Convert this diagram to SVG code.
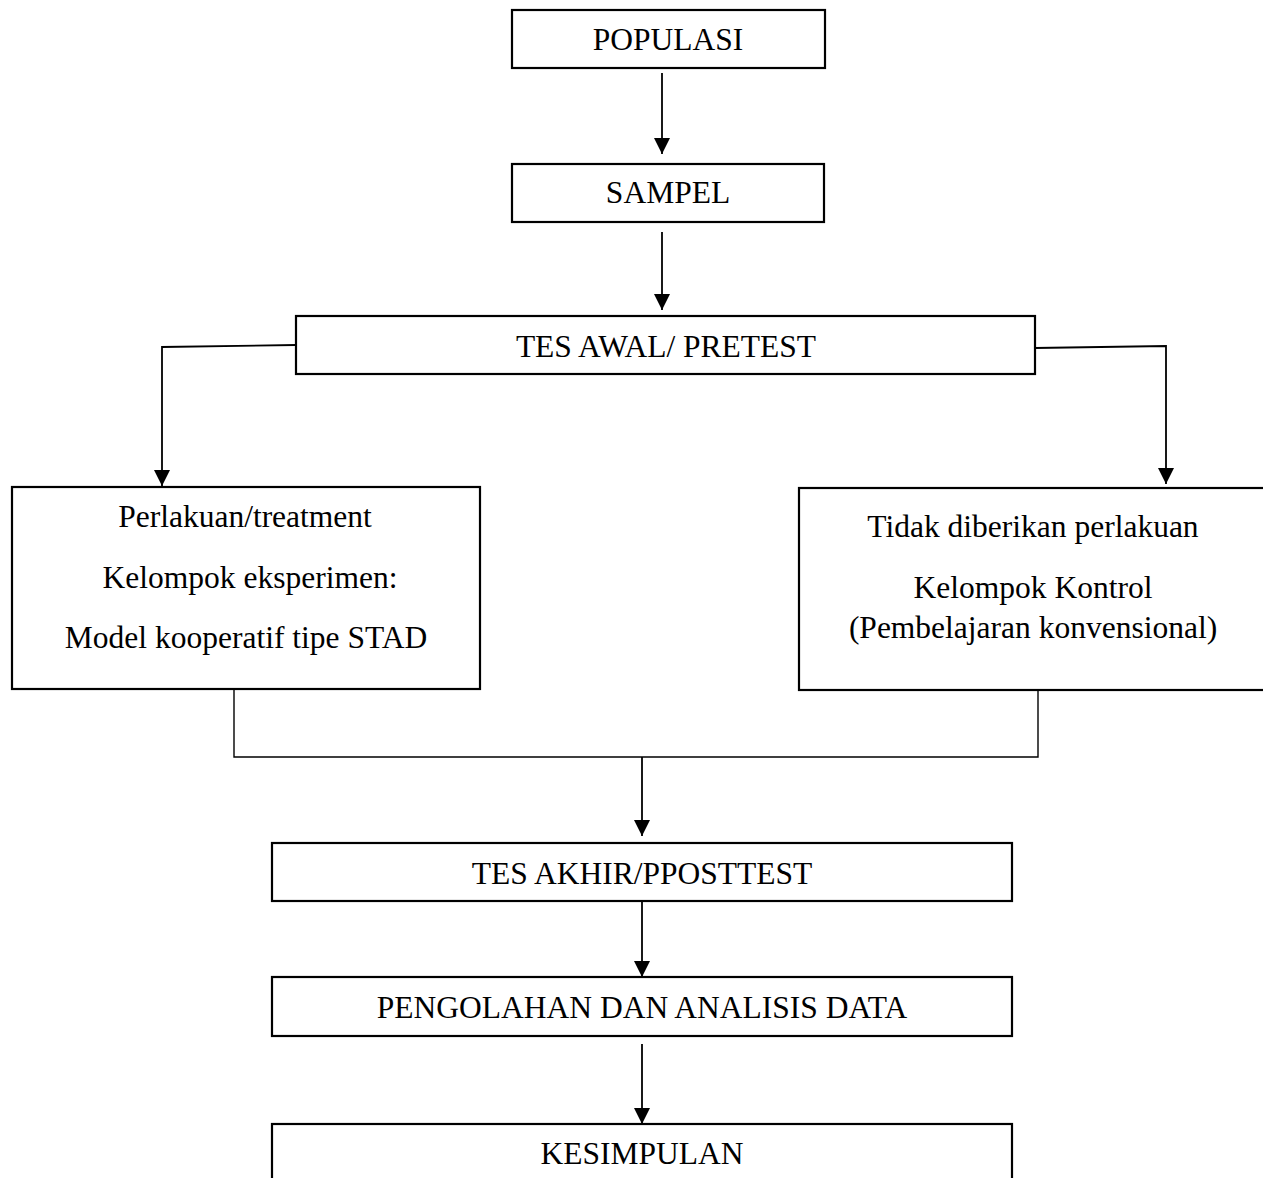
<svg xmlns="http://www.w3.org/2000/svg" width="1263" height="1178" viewBox="0 0 1263 1178">
<style>
  .box { fill: #ffffff; stroke: #000000; stroke-width: 2.2; }
  .lbl { font-family: "Liberation Serif", "Times New Roman", serif; font-size: 31.5px; fill: #000000; text-anchor: middle; }
  .con { fill: none; stroke: #000000; stroke-width: 1.8; }
  .thin { fill: none; stroke: #000000; stroke-width: 1.4; }
</style>
<defs>
  <marker id="arrow" markerUnits="userSpaceOnUse" markerWidth="16" markerHeight="16" refX="16" refY="8" orient="auto" viewBox="0 0 16 16">
    <path d="M0,0 L16,8 L0,16 z" fill="#000000"/>
  </marker>
</defs>
<rect width="1263" height="1178" fill="#ffffff"/>

<g id="connectors">
  <line class="con" x1="662" y1="73" x2="662" y2="154" marker-end="url(#arrow)"/>
  <line class="con" x1="662" y1="232" x2="662" y2="310" marker-end="url(#arrow)"/>
  <polyline class="con" points="296,345 162,347 162,486" marker-end="url(#arrow)"/>
  <polyline class="con" points="1035,348 1166,346 1166,484" marker-end="url(#arrow)"/>
  <polyline class="thin" points="234,690 234,757 1038,757 1038,691"/>
  <line class="con" x1="642" y1="757" x2="642" y2="836" marker-end="url(#arrow)"/>
  <line class="con" x1="642" y1="898" x2="642" y2="977" marker-end="url(#arrow)"/>
  <line class="con" x1="642" y1="1044" x2="642" y2="1124" marker-end="url(#arrow)"/>
</g>

<g id="populasi">
  <rect class="box" x="512" y="10" width="313" height="58"/>
  <text class="lbl" x="668" y="50">POPULASI</text>
</g>
<g id="sampel">
  <rect class="box" x="512" y="164" width="312" height="58"/>
  <text class="lbl" x="668" y="203">SAMPEL</text>
</g>
<g id="pretest">
  <rect class="box" x="296" y="316" width="739" height="58"/>
  <text class="lbl" x="666" y="357">TES AWAL/ PRETEST</text>
</g>
<g id="eksperimen">
  <rect class="box" x="12" y="487" width="468" height="202"/>
  <text class="lbl" x="245" y="527">Perlakuan/treatment</text>
  <text class="lbl" x="250" y="588">Kelompok eksperimen:</text>
  <text class="lbl" x="246" y="648">Model kooperatif tipe STAD</text>
</g>
<g id="kontrol">
  <rect class="box" x="799" y="488" width="480" height="202"/>
  <text class="lbl" x="1033" y="537">Tidak diberikan perlakuan</text>
  <text class="lbl" x="1033" y="598">Kelompok Kontrol</text>
  <text class="lbl" x="1033" y="638">(Pembelajaran konvensional)</text>
</g>
<g id="posttest">
  <rect class="box" x="272" y="843" width="740" height="58"/>
  <text class="lbl" x="642" y="884">TES AKHIR/PPOSTTEST</text>
</g>
<g id="analisis">
  <rect class="box" x="272" y="977" width="740" height="59"/>
  <text class="lbl" x="642" y="1018">PENGOLAHAN DAN ANALISIS DATA</text>
</g>
<g id="kesimpulan">
  <rect class="box" x="272" y="1124" width="740" height="70"/>
  <text class="lbl" x="642" y="1164">KESIMPULAN</text>
</g>
</svg>
